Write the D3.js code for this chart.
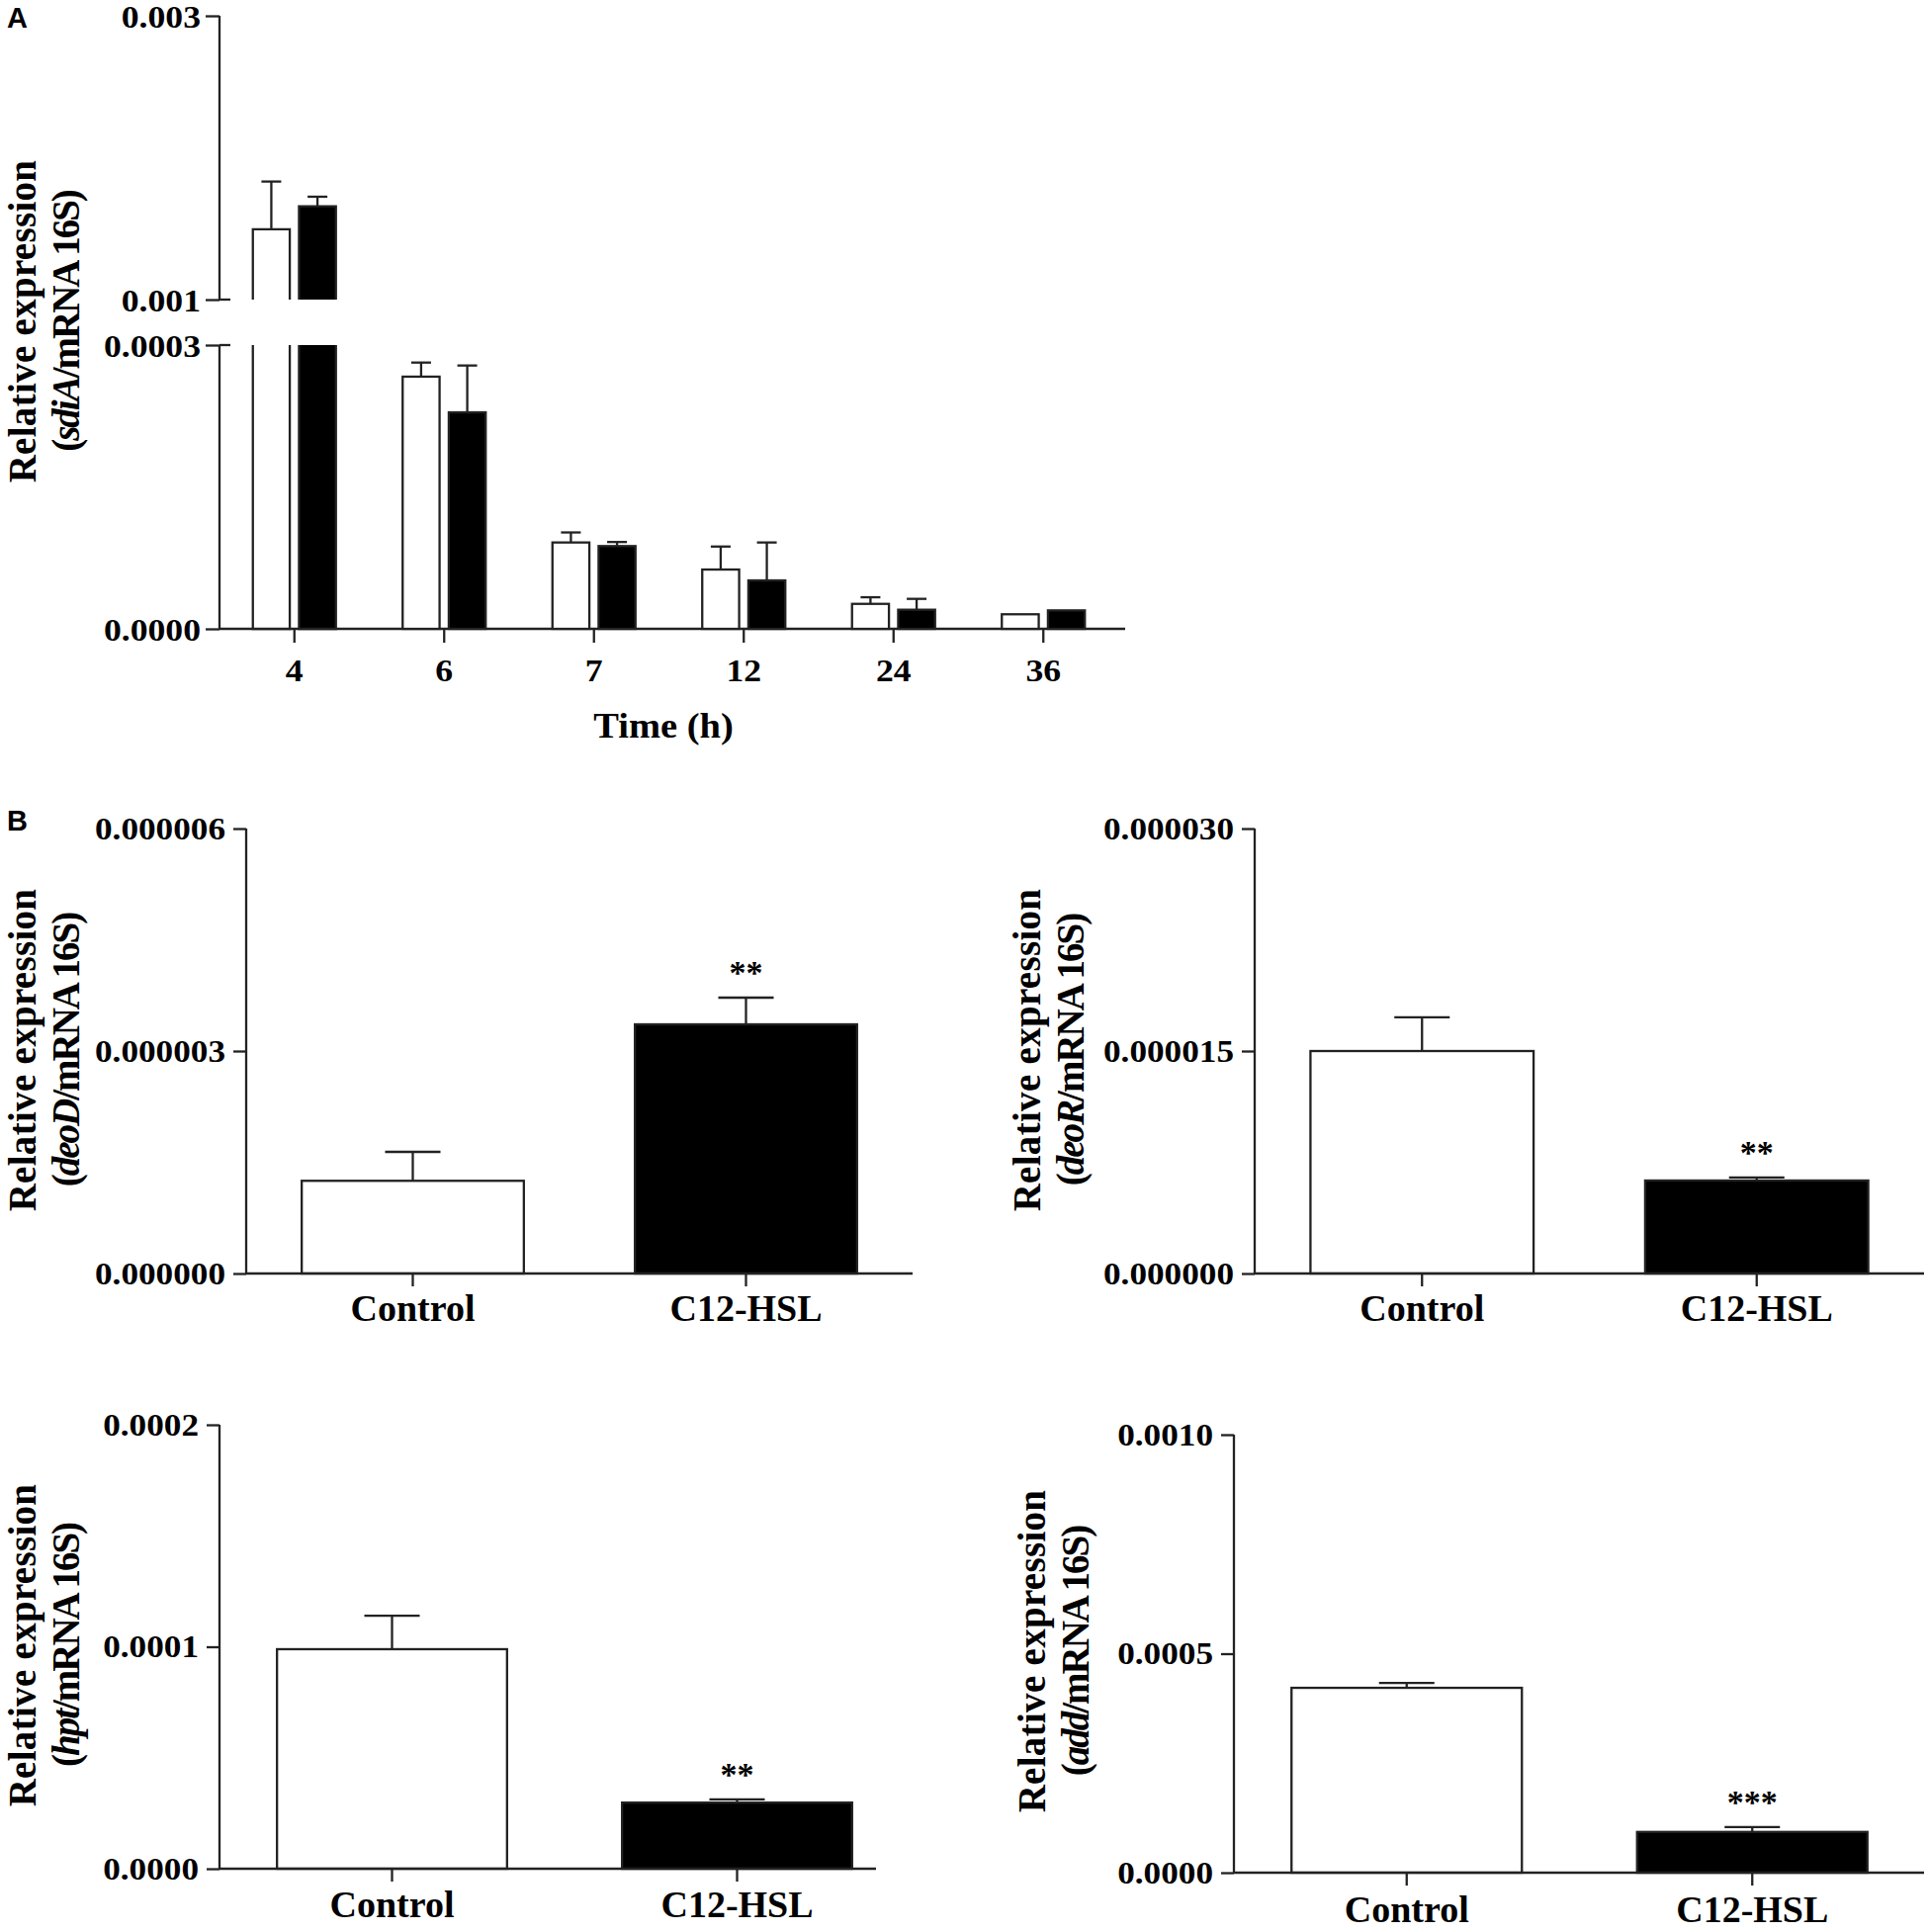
<!DOCTYPE html>
<html lang="en">
<head>
  <meta charset="UTF-8">
  <title>Relative expression</title>
  <script src="https://d3js.org/d3.v7.min.js"></script>
  <style>
    body { margin: 0; background: #fff; }
    svg text { font-family: "Liberation Serif", "Times New Roman", serif; font-weight: bold; fill: #000; }
  </style>
</head>
<body>
  <svg id="chart" width="1950" height="1954"></svg>

  <script>
    // ---- Panel A: sdiA over time ----
    const timeLabels = ["4", "6", "7", "12", "24", "36"];
    const sdiAControl = [0.001495, 0.0002666, 0.0000913, 0.0000627, 0.0000264, 0.0000154];
    const sdiAControlSem = [0.000337, 0.0000149, 0.0000106, 0.0000243, 0.0000070, 0];
    const sdiAC12 = [0.001657, 0.0002289, 0.0000875, 0.0000512, 0.0000202, 0.0000195];
    const sdiAC12Sem = [0.000068, 0.0000495, 0.0000043, 0.0000401, 0.0000115, 0];
    const sdiALowTicks = [0, 0.0003];
    const sdiAHighTicks = [0.001, 0.003];

    // ---- Panel B: four genes ----
    const groups = ["Control", "C12-HSL"];
    const deoDMean = [1.25e-6, 3.36e-6];
    const deoDSem = [0.39e-6, 0.36e-6];
    const deoDStars = ["", "**"];
    const deoDTicks = [0, 3e-6, 6e-6];

    const deoRMean = [1.50e-5, 6.27e-6];
    const deoRSem = [2.27e-6, 0.20e-6];
    const deoRStars = ["", "**"];
    const deoRTicks = [0, 1.5e-5, 3e-5];

    const hptMean = [9.89e-5, 2.98e-5];
    const hptSem = [1.51e-5, 0.14e-5];
    const hptStars = ["", "**"];
    const hptTicks = [0, 1e-4, 2e-4];

    const addMean = [4.22e-4, 9.3e-5];
    const addSem = [1.1e-5, 1.1e-5];
    const addStars = ["", "***"];
    const addTicks = [0, 5e-4, 1e-3];

    const fills = ["#fff", "#000"];
    const lineColor = "#222";
    const lw = 2.3;

    const svg = d3.select("#chart");

    // stretch text horizontally to mimic the wide figure lettering
    function stretch(sel, k) {
      sel.each(function () {
        const L = this.getComputedTextLength();
        d3.select(this).attr("textLength", L * k).attr("lengthAdjust", "spacingAndGlyphs");
      });
    }

    function panelTag(label, y) {
      svg.append("text").attr("x", 7).attr("y", y)
        .style("font-family", "'Liberation Sans', Arial, sans-serif")
        .style("font-size", "29px")
        .text(label);
    }

    function yTitle(g, gene, x, yc) {
      g.append("text")
        .attr("transform", `translate(${x},${yc}) rotate(-90)`)
        .attr("text-anchor", "middle")
        .style("font-size", "39px")
        .style("letter-spacing", "0.3px")
        .text("Relative expression");
      const t2 = g.append("text")
        .attr("transform", `translate(${x + 44},${yc}) rotate(-90)`)
        .attr("text-anchor", "middle")
        .style("font-size", "39px")
        .style("letter-spacing", "-2px");
      t2.append("tspan").text("(");
      t2.append("tspan").style("font-style", "italic").text(gene);
      t2.append("tspan").text("/mRNA 16S)");
    }

    function errorBar(g, cx, yTop, yErr, cap) {
      if (Math.abs(yTop - yErr) < 0.5) return;
      g.append("line").attr("x1", cx).attr("x2", cx).attr("y1", yTop).attr("y2", yErr)
        .attr("stroke", lineColor).attr("stroke-width", lw);
      g.append("line").attr("x1", cx - cap / 2).attr("x2", cx + cap / 2).attr("y1", yErr).attr("y2", yErr)
        .attr("stroke", lineColor).attr("stroke-width", lw);
    }

    // ================= Panel A =================
    const gA = svg.append("g");
    panelTag("A", 28);

    const axA = 222;
    const yLo = d3.scaleLinear().domain([0, 0.0003]).range([636, 349]);
    const yHi = d3.scaleLinear().domain([0.001, 0.003]).range([303, 16]);
    const xA = d3.scaleBand().domain(timeLabels).range([axA, 1131]);
    const xSub = d3.scaleBand().domain(groups).range([-42, 42]).paddingInner(0.2);

    const loAxis = gA.append("g").attr("transform", `translate(${axA},0)`)
      .call(d3.axisLeft(yLo).tickValues(sdiALowTicks).tickFormat(d3.format(".4f")).tickSize(14).tickPadding(5));
    const hiAxis = gA.append("g").attr("transform", `translate(${axA},0)`)
      .call(d3.axisLeft(yHi).tickValues(sdiAHighTicks).tickFormat(d3.format(".3f")).tickSize(14).tickPadding(5));
    [loAxis, hiAxis].forEach(a => {
      a.select(".domain").remove();
      a.selectAll(".tick line").attr("stroke", lineColor).attr("stroke-width", lw);
      a.selectAll("text").attr("dy", "0.38em").style("font-size", "31px").call(stretch, 1.15);
    });
    // broken axis segments
    gA.append("line").attr("x1", axA).attr("x2", axA).attr("y1", yHi.range()[1]).attr("y2", yHi.range()[0])
      .attr("stroke", lineColor).attr("stroke-width", lw);
    gA.append("line").attr("x1", axA).attr("x2", axA).attr("y1", yLo.range()[1]).attr("y2", yLo.range()[0])
      .attr("stroke", lineColor).attr("stroke-width", lw);
    [yHi(0.001), yLo(0.0003)].forEach(y => {
      gA.append("line").attr("x1", axA).attr("x2", axA + 11).attr("y1", y).attr("y2", y)
        .attr("stroke", lineColor).attr("stroke-width", lw);
    });

    const xAxisA = gA.append("g").attr("transform", `translate(0,${yLo(0)})`)
      .call(d3.axisBottom(xA).tickSize(14).tickPadding(17).tickSizeOuter(0));
    xAxisA.select(".domain").remove();
    xAxisA.selectAll(".tick line").attr("stroke", lineColor).attr("stroke-width", lw);
    xAxisA.selectAll("text").style("font-size", "31px").call(stretch, 1.15);
    gA.append("line").attr("x1", axA).attr("x2", 1138).attr("y1", yLo(0)).attr("y2", yLo(0))
      .attr("stroke", lineColor).attr("stroke-width", lw);

    gA.append("text").attr("x", 671).attr("y", 746).attr("text-anchor", "middle")
      .style("font-size", "35px").text("Time (h)").call(stretch, 1.1);

    yTitle(gA, "sdiA", 36, 325);

    const seriesA = [
      { name: groups[0], mean: sdiAControl, sem: sdiAControlSem, fill: fills[0] },
      { name: groups[1], mean: sdiAC12, sem: sdiAC12Sem, fill: fills[1] }
    ];
    const lowMax = yLo.domain()[1];
    const hiMin = yHi.domain()[0];
    seriesA.forEach(s => {
      timeLabels.forEach((t, i) => {
        const v = s.mean[i];
        const x0 = xA(t) + xA.bandwidth() / 2 + xSub(s.name);
        const x1 = x0 + xSub.bandwidth();
        const cx = (x0 + x1) / 2;
        let topY, errY;
        if (v <= lowMax) {
          topY = yLo(v);
          errY = yLo(v + s.sem[i]);
          gA.append("rect").attr("x", x0).attr("y", topY).attr("width", x1 - x0).attr("height", yLo(0) - topY)
            .attr("fill", s.fill).attr("stroke", lineColor).attr("stroke-width", lw);
        } else {
          // lower segment, open at the top
          gA.append("rect").attr("x", x0).attr("y", yLo(lowMax)).attr("width", x1 - x0)
            .attr("height", yLo(0) - yLo(lowMax)).attr("fill", s.fill);
          gA.append("path").attr("d", `M${x0},${yLo(lowMax)}V${yLo(0)}H${x1}V${yLo(lowMax)}`)
            .attr("fill", "none").attr("stroke", lineColor).attr("stroke-width", lw);
          // upper segment, open at the bottom
          topY = yHi(v);
          errY = yHi(v + s.sem[i]);
          gA.append("rect").attr("x", x0).attr("y", topY).attr("width", x1 - x0)
            .attr("height", yHi(hiMin) - topY).attr("fill", s.fill);
          gA.append("path").attr("d", `M${x0},${yHi(hiMin)}V${topY}H${x1}V${yHi(hiMin)}`)
            .attr("fill", "none").attr("stroke", lineColor).attr("stroke-width", lw);
        }
        errorBar(gA, cx, topY, errY, 20);
      });
    });

    // ================= Panel B =================
    panelTag("B", 840);

    const panelsB = [
      { gene: "deoD", mean: deoDMean, sem: deoDSem, stars: deoDStars, ticks: deoDTicks, fmt: ".6f",
        axisX: 249, bandEnd: 923, axisEnd: 923, y0: 1288, yTop: 838, pad: 8, titleX: 36, titleY: 1062 },
      { gene: "deoR", mean: deoRMean, sem: deoRSem, stars: deoRStars, ticks: deoRTicks, fmt: ".6f",
        axisX: 1269, bandEnd: 1946, axisEnd: 1946, y0: 1288, yTop: 838, pad: 8, titleX: 1052, titleY: 1062 },
      { gene: "hpt", mean: hptMean, sem: hptSem, stars: hptStars, ticks: hptTicks, fmt: ".4f",
        axisX: 222, bandEnd: 920, axisEnd: 886, y0: 1890, yTop: 1441, pad: 9, titleX: 36, titleY: 1664 },
      { gene: "add", mean: addMean, sem: addSem, stars: addStars, ticks: addTicks, fmt: ".4f",
        axisX: 1248, bandEnd: 1947, axisEnd: 1946, y0: 1894, yTop: 1451, pad: 10, titleX: 1057, titleY: 1670 }
    ];

    panelsB.forEach(p => {
      const g = svg.append("g");
      const y = d3.scaleLinear().domain([p.ticks[0], p.ticks[p.ticks.length - 1]]).range([p.y0, p.yTop]);
      const x = d3.scaleBand().domain(groups).range([p.axisX, p.bandEnd]).paddingInner(1 / 3).paddingOuter(1 / 6);

      const ya = g.append("g").attr("transform", `translate(${p.axisX},0)`)
        .call(d3.axisLeft(y).tickValues(p.ticks).tickFormat(d3.format(p.fmt)).tickSize(13).tickPadding(8));
      ya.select(".domain").remove();
      ya.selectAll(".tick line").attr("stroke", lineColor).attr("stroke-width", lw);
      ya.selectAll("text").style("font-size", "32px").call(stretch, 1.1);
      g.append("line").attr("x1", p.axisX).attr("x2", p.axisX).attr("y1", p.yTop).attr("y2", p.y0)
        .attr("stroke", lineColor).attr("stroke-width", lw);

      const xa = g.append("g").attr("transform", `translate(0,${p.y0})`)
        .call(d3.axisBottom(x).tickSize(13).tickPadding(p.pad).tickSizeOuter(0));
      xa.select(".domain").remove();
      xa.selectAll(".tick line").attr("stroke", lineColor).attr("stroke-width", lw);
      xa.selectAll("text").style("font-size", "38px");

      groups.forEach((grp, i) => {
        const x0 = x(grp), w = x.bandwidth();
        const topY = y(p.mean[i]);
        g.append("rect").attr("x", x0).attr("y", topY).attr("width", w).attr("height", p.y0 - topY)
          .attr("fill", fills[i]).attr("stroke", lineColor).attr("stroke-width", lw);
        const errY = y(p.mean[i] + p.sem[i]);
        errorBar(g, x0 + w / 2, topY, errY, 56);
        if (p.stars[i]) {
          g.append("text").attr("x", x0 + w / 2).attr("y", errY - 14).attr("text-anchor", "middle")
            .style("font-size", "34px").text(p.stars[i]);
        }
      });

      g.append("line").attr("x1", p.axisX).attr("x2", p.axisEnd).attr("y1", p.y0).attr("y2", p.y0)
        .attr("stroke", lineColor).attr("stroke-width", lw);

      yTitle(g, p.gene, p.titleX, p.titleY);
    });
  </script>
</body>
</html>
